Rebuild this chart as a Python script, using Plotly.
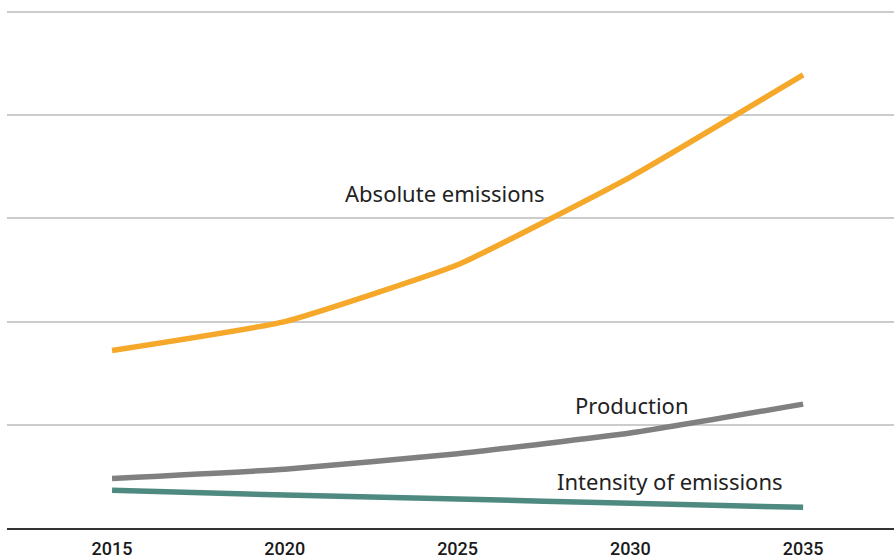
import plotly.graph_objects as go

years = [2015, 2020, 2025, 2030, 2035]
absolute_emissions = [1.72, 2.00, 2.55, 3.40, 4.39]
production = [0.48, 0.57, 0.72, 0.92, 1.20]
intensity = [0.365, 0.32, 0.28, 0.24, 0.20]

series = [
    ("Absolute emissions", absolute_emissions, "#f5a82a"),
    ("Production", production, "#808080"),
    ("Intensity of emissions", intensity, "#4f8a81"),
]

fig = go.Figure()
for name, vals, color in series:
    fig.add_trace(go.Scatter(
        x=years, y=vals, mode="lines", name=name,
        line=dict(color=color, width=5.5, shape="spline", smoothing=0.4),
        showlegend=False,
    ))

labels = [
    ("Absolute emissions", 2024.64, 3.25),
    ("Production", 2030.02, 1.19),
    ("Intensity of emissions", 2031.15, 0.46),
]
for text, x, y in labels:
    fig.add_annotation(x=x, y=y, text=text, showarrow=False,
                       font=dict(family="Noto Sans", size=22, color="#222222"),
                       xanchor="center", yanchor="middle")

fig.update_layout(
    width=894, height=559,
    margin=dict(l=7, r=0, t=4, b=27),
    paper_bgcolor="white", plot_bgcolor="white",
    xaxis=dict(range=[2011.96, 2037.63], tickvals=years,
               ticktext=[str(y) for y in years],
               showgrid=False, zeroline=False, showline=True,
               linecolor="#333333", linewidth=1.5,
               tickfont=dict(family="Roboto", size=18, color="#1a1a1a", weight=500),
               ticks="", ticklabelstandoff=4, fixedrange=True),
    yaxis=dict(range=[0, 5.077], tickvals=[1, 2, 3, 4, 5], showticklabels=False,
               showgrid=True, gridcolor="#cccccc", gridwidth=1.5,
               zeroline=False, fixedrange=True),
)

fig.write_html("out.html")
